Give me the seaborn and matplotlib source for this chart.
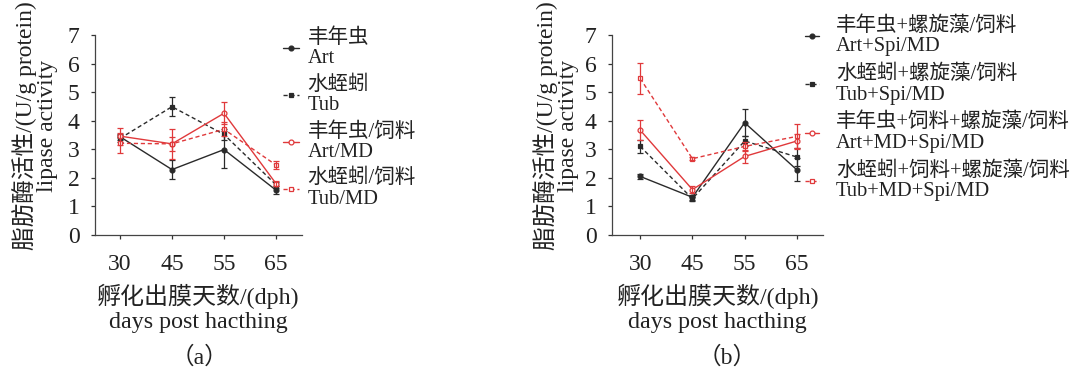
import matplotlib
matplotlib.use("Agg")
import matplotlib.pyplot as plt
import seaborn as sns
import numpy as np

# ---------------- data ----------------
days = ["30", "45", "55", "65"]

# panel (a)
a_labels = ["丰年虫\nArt", "水蛭蚓\nTub", "丰年虫/饲料\nArt/MD", "水蛭蚓/饲料\nTub/MD"]
a_art = [3.44, 2.29, 2.99, 1.57]
a_art_err = [0.10, 0.33, 0.65, 0.14]
a_tub = [3.38, 4.49, 3.52, 1.76]
a_tub_err = [0.12, 0.33, 0.20, 0.10]
a_artmd = [3.46, 3.19, 4.26, 1.80]
a_artmd_err = [0.30, 0.25, 0.38, 0.08]
a_tubmd = [3.21, 3.19, 3.70, 2.45]
a_tubmd_err = [0.35, 0.52, 0.25, 0.15]

# panel (b)
b_labels = ["丰年虫+螺旋藻/饲料\nArt+Spi/MD", "水蛭蚓+螺旋藻/饲料\nTub+Spi/MD",
            "丰年虫+饲料+螺旋藻/饲料\nArt+MD+Spi/MD", "水蛭蚓+饲料+螺旋藻/饲料\nTub+MD+Spi/MD"]
b_art = [2.05, 1.32, 3.93, 2.28]
b_art_err = [0.10, 0.08, 0.47, 0.40]
b_tub = [3.10, 1.27, 3.29, 2.73]
b_tub_err = [0.22, 0.07, 0.18, 0.30]
b_artmd = [3.67, 1.59, 2.75, 3.29]
b_artmd_err = [0.35, 0.12, 0.22, 0.25]
b_tubmd = [5.48, 2.67, 3.10, 3.45]
b_tubmd_err = [0.55, 0.06, 0.15, 0.45]

# ---------------- style ----------------
sns.set_theme(style="ticks")
plt.rcParams["font.family"] = ["Liberation Serif", "Noto Sans CJK SC"]
plt.rcParams["axes.unicode_minus"] = False

BLACK = "#2a2a2a"
RED = "#e0393b"
TXT = "#222222"

W, H = 1070, 374
fig = plt.figure(figsize=(W / 100, H / 100), dpi=100)


def px_axes(l, t, r, b):
    return fig.add_axes([l / W, 1 - b / H, (r - l) / W, (b - t) / H])


styles = [
    dict(color=BLACK, linestyle="-", marker="o", mfc=BLACK),
    dict(color=BLACK, linestyle=(0, (3, 2)), marker="s", mfc=BLACK),
    dict(color=RED, linestyle="-", marker="o", mfc="white"),
    dict(color=RED, linestyle=(0, (3, 2)), marker="s", mfc="white"),
]


def draw_panel(ax, series, errs, labels, xleft):
    x = np.arange(len(days))
    for vals, err, lab, st in zip(series, errs, labels, styles):
        sns.lineplot(x=x, y=vals, ax=ax, color=st["color"], linestyle=st["linestyle"],
                     marker=st["marker"], markersize=3.5, markerfacecolor=st["mfc"],
                     markeredgecolor=st["color"], markeredgewidth=0.9, linewidth=1.0,
                     label=lab, errorbar=None)
        ax.errorbar(x, vals, yerr=err, fmt="none", ecolor=st["color"], elinewidth=0.9,
                    capsize=2.2, capthick=0.9, label="_nolegend_")
    ax.set_xlim(xleft, 3.5)
    ax.set_ylim(0, 7)
    ax.set_yticks(range(0, 8))
    ax.set_xticks(x)
    ax.set_xticklabels(days)
    ax.tick_params(axis="both", labelsize=17, length=3, width=0.9, colors="#333333",
                   labelcolor=TXT)
    ax.tick_params(axis="x", pad=11)
    ax.tick_params(axis="y", pad=8)
    for s in ["top", "right"]:
        ax.spines[s].set_visible(False)
    for s in ["left", "bottom"]:
        ax.spines[s].set_linewidth(0.9)
        ax.spines[s].set_color("#444444")
    ax.set_xlabel("孵化出膜天数/(dph)\ndays post hacthing", fontsize=17.3, linespacing=1.15,
                  color=TXT)
    ax.xaxis.set_label_coords(0.5, -0.245)
    ax.xaxis.label.set_verticalalignment("top")
    ax.set_ylabel("")
    leg = ax.get_legend()
    if leg is not None:
        leg.remove()


axA = px_axes(95, 35, 302, 235)
draw_panel(axA, [a_art, a_tub, a_artmd, a_tubmd],
           [a_art_err, a_tub_err, a_artmd_err, a_tubmd_err], a_labels, -0.48)
axB = px_axes(612, 35, 823, 235)
draw_panel(axB, [b_art, b_tub, b_artmd, b_tubmd],
           [b_art_err, b_tub_err, b_artmd_err, b_tubmd_err], b_labels, -0.54)

# y labels
for xc in (35, 556):
    fig.text(xc / W, 1 - 126 / H, "脂肪酶活性/(U/g protein)\nlipase activity", rotation=90,
             ha="center", va="center", multialignment="center", fontsize=17,
             linespacing=1.0, color=TXT)


# legends
def make_legend(ax, xpx, ypx, hlen, hpad, lsp):
    h, l = ax.get_legend_handles_labels()
    leg = fig.legend(h, l, loc="upper left", bbox_to_anchor=(xpx / W, 1 - ypx / H),
                     frameon=False, fontsize=14.8, handlelength=hlen, handletextpad=hpad,
                     labelspacing=lsp, borderpad=0, borderaxespad=0)
    for t in leg.get_texts():
        t.set_linespacing(1.12)
        t.set_color(TXT)
    return leg


make_legend(axA, 283, 28, 0.78, 0.42, 0.33)
make_legend(axB, 805, 16, 0.68, 0.83, 0.4)

# panel letters
fig.text(199 / W, 1 - 358 / H, "（a）", ha="center", va="center", fontsize=17, color=TXT)
fig.text(727 / W, 1 - 358 / H, "（b）", ha="center", va="center", fontsize=17, color=TXT)

fig.savefig("out.png", dpi=100)
